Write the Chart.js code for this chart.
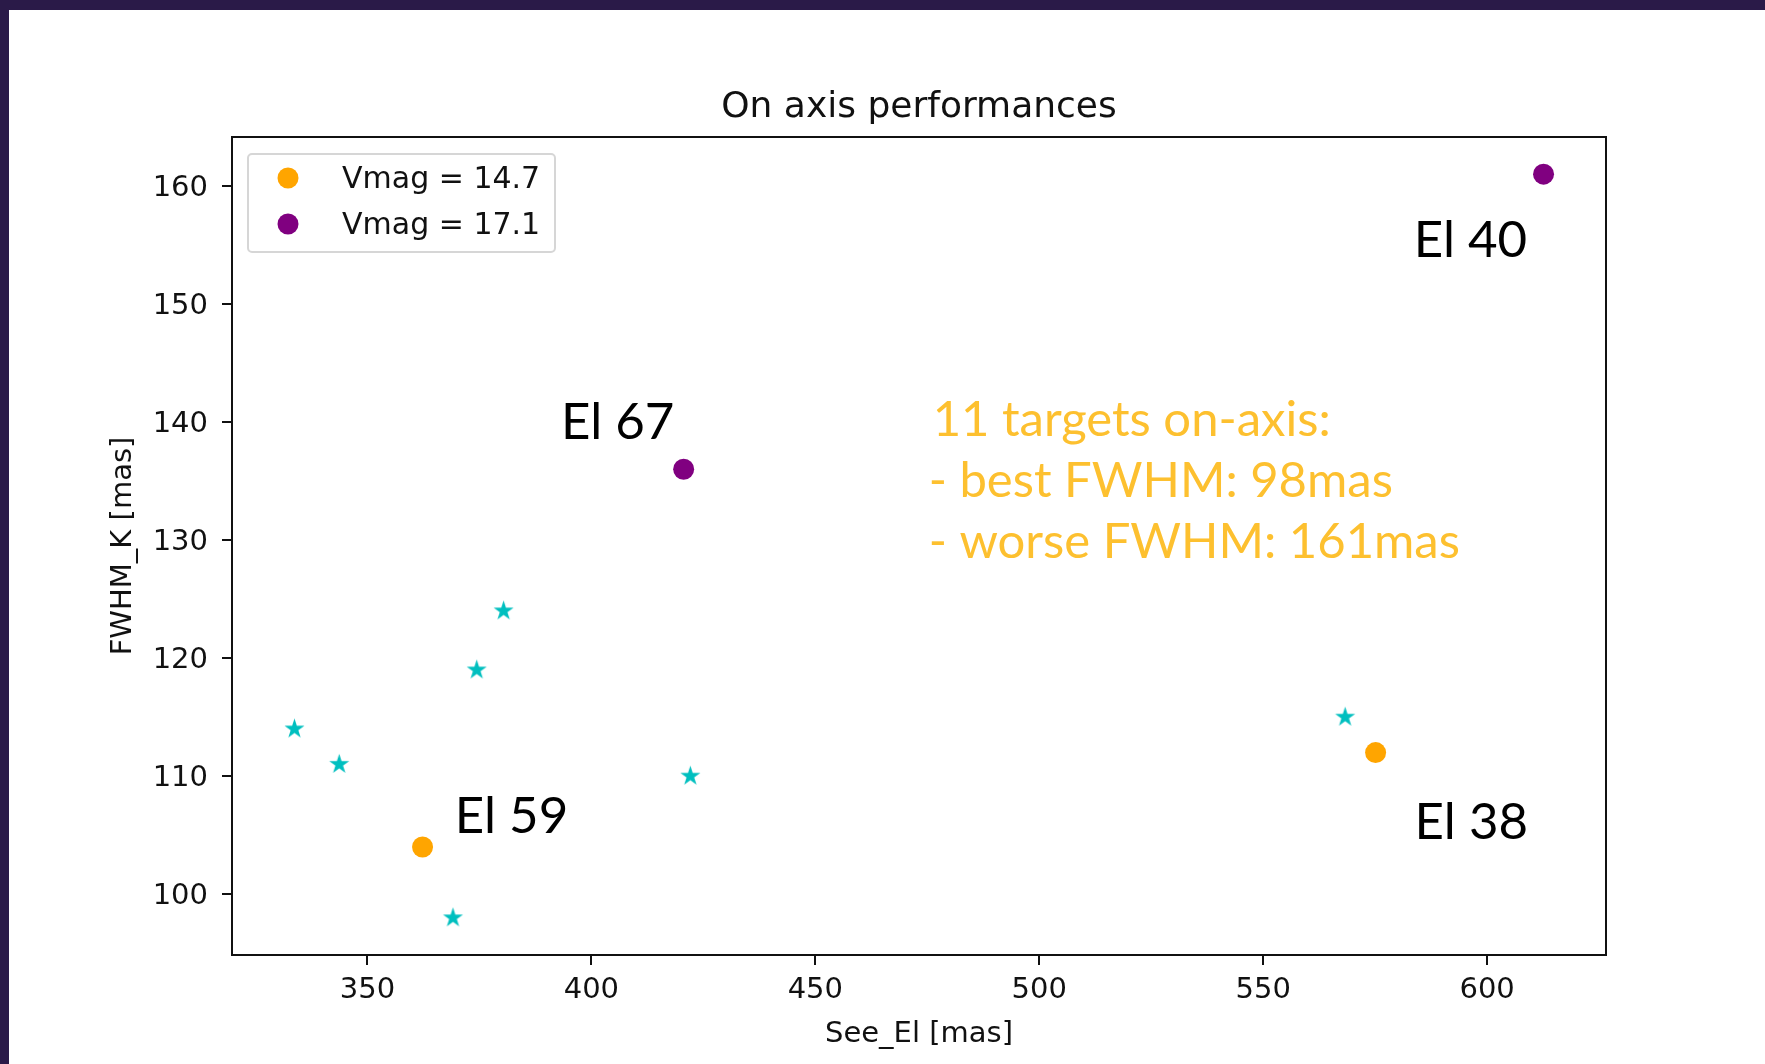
<!DOCTYPE html>
<html>
<head>
<meta charset="utf-8">
<title>On axis performances</title>
<script src="https://cdn.jsdelivr.net/npm/chart.js@4.4.1/dist/chart.umd.min.js"></script>
<style>
    html, body { margin: 0; padding: 0; overflow: hidden; }
    body { width: 1765px; height: 1064px; background: #2a1a48; position: relative; }
    #painel { position: absolute; left: 9px; top: 10px; width: 1756px; height: 1054px; background: #fff; }
    #grafico { display: block; }
</style>
</head>
<body>
<div id="painel">
    <canvas id="grafico" width="1756" height="1054"></canvas>
</div>
<script>
// Dados: seeing (See_El) x FWHM na banda K, em mas
const seeingOutros = [333.7, 343.7, 374.4, 380.4, 422.1, 369.1, 568.3];
const fwhmOutros = [114, 111, 119, 124, 110, 98, 115];
const seeingVmag147 = [362.3, 575.1];
const fwhmVmag147 = [104, 112];
const seeingVmag171 = [420.6, 612.6];
const fwhmVmag171 = [136, 161];

const ticksX = [350, 400, 450, 500, 550, 600];
const ticksY = [100, 110, 120, 130, 140, 150, 160];
const rotulosLegenda = ['Vmag = 14.7', 'Vmag = 17.1'];
const linhasResumo = ['11 targets on-axis:', '- best FWHM: 98mas', '- worse FWHM: 161mas'];

// Rótulos de elevação (ancorados em coordenadas dos dados)
const rotulosElevacao = [
    { texto: 'El 40', x: 583.6, y: 154.0 },
    { texto: 'El 67', x: 393.2, y: 138.6 },
    { texto: 'El 59', x: 369.5, y: 105.2 },
    { texto: 'El 38', x: 583.8, y: 104.7 }
];

const CORES = {
    laranja: '#ffa500',
    roxo: '#800080',
    ciano: '#00bfbf',
    texto: '#111111',
    resumo: '#fdc02f'
};
const FONTE_MPL = '"DejaVu Sans", sans-serif';
const FONTE_SLIDE = 'Futura, "Century Gothic", Lato, sans-serif';

// Margem de 5% nos limites, como o matplotlib faz
function limites(valores) {
    const min = Math.min(...valores);
    const max = Math.max(...valores);
    const m = (max - min) * 0.05;
    return { min: min - m, max: max + m };
}

// Marcador de estrela preenchida (o 'star' do Chart.js é só traço)
function criarEstrela(cor, raio) {
    const c = document.createElement('canvas');
    const tam = Math.ceil(raio * 2) + 2;
    c.width = c.height = tam;
    const ctx = c.getContext('2d');
    ctx.fillStyle = cor;
    ctx.beginPath();
    for (let i = 0; i < 10; i++) {
        const r = i % 2 === 0 ? raio : raio * 0.382;
        const a = -Math.PI / 2 + i * Math.PI / 5;
        ctx.lineTo(tam / 2 + r * Math.cos(a), tam / 2 + r * Math.sin(a));
    }
    ctx.closePath();
    ctx.fill();
    return c;
}

function pontos(xs, ys) {
    return xs.map((x, i) => ({ x, y: ys[i] }));
}

const limX = limites([...seeingOutros, ...seeingVmag147, ...seeingVmag171]);
const limY = limites([...fwhmOutros, ...fwhmVmag147, ...fwhmVmag171]);

// Moldura, título, legenda e textos por cima do gráfico
const pluginSobreposicao = {
    id: 'sobreposicao',
    afterDraw(chart) {
        const { ctx, chartArea: a, scales: { x, y } } = chart;
        ctx.save();

        ctx.strokeStyle = CORES.texto;
        ctx.lineWidth = 2;
        ctx.strokeRect(a.left, a.top, a.right - a.left, a.bottom - a.top);

        // Título
        ctx.fillStyle = CORES.texto;
        ctx.font = `36px ${FONTE_MPL}`;
        ctx.textAlign = 'center';
        ctx.textBaseline = 'alphabetic';
        ctx.fillText('On axis performances', (a.left + a.right) / 2, a.top - 20);

        // Legenda
        const lx = a.left + 16, ly = a.top + 17, lw = 307, lh = 98;
        ctx.globalAlpha = 0.8;
        ctx.fillStyle = '#fff';
        ctx.strokeStyle = '#cccccc';
        ctx.lineWidth = 2;
        ctx.beginPath();
        ctx.roundRect(lx, ly, lw, lh, 4);
        ctx.fill();
        ctx.stroke();
        ctx.globalAlpha = 1;
        const coresLegenda = [CORES.laranja, CORES.roxo];
        ctx.font = `30px ${FONTE_MPL}`;
        ctx.textAlign = 'left';
        ctx.textBaseline = 'middle';
        rotulosLegenda.forEach((rotulo, i) => {
            const cy = ly + 24 + i * 46;
            ctx.fillStyle = coresLegenda[i];
            ctx.beginPath();
            ctx.arc(lx + 40, cy, 10.5, 0, Math.PI * 2);
            ctx.fill();
            ctx.fillStyle = CORES.texto;
            ctx.fillText(rotulo, lx + 94, cy + 2);
        });

        // Rótulos de elevação
        ctx.fillStyle = '#000';
        ctx.font = `51px ${FONTE_SLIDE}`;
        ctx.textBaseline = 'alphabetic';
        rotulosElevacao.forEach(r => {
            ctx.fillText(r.texto, x.getPixelForValue(r.x), y.getPixelForValue(r.y));
        });

        // Resumo em amarelo
        ctx.fillStyle = CORES.resumo;
        ctx.font = `49px ${FONTE_SLIDE}`;
        const rx = x.getPixelForValue(476.2);
        const ry = y.getPixelForValue(138.8);
        linhasResumo.forEach((linha, i) => {
            ctx.fillText(linha, rx - (i > 0 ? 4 : 0), ry + i * 61);
        });

        ctx.restore();
    }
};

const eixoComum = {
    type: 'linear',
    grid: {
        drawOnChartArea: false,
        drawTicks: true,
        tickLength: 10,
        color: CORES.texto,
        lineWidth: 2
    },
    border: { display: false },
    ticks: {
        color: CORES.texto,
        font: { family: FONTE_MPL, size: 29 }
    }
};

new Chart(document.getElementById('grafico'), {
    type: 'scatter',
    data: {
        datasets: [
            {
                label: 'outros',
                data: pontos(seeingOutros, fwhmOutros),
                pointStyle: criarEstrela(CORES.ciano, 10.5),
                backgroundColor: CORES.ciano,
                borderWidth: 0
            },
            {
                label: rotulosLegenda[0],
                data: pontos(seeingVmag147, fwhmVmag147),
                pointStyle: 'circle',
                pointRadius: 10.5,
                backgroundColor: CORES.laranja,
                borderWidth: 0
            },
            {
                label: rotulosLegenda[1],
                data: pontos(seeingVmag171, fwhmVmag171),
                pointStyle: 'circle',
                pointRadius: 10.5,
                backgroundColor: CORES.roxo,
                borderWidth: 0
            }
        ]
    },
    options: {
        responsive: false,
        animation: false,
        devicePixelRatio: 1,
        layout: { padding: { top: 127, right: 159, bottom: 0, left: 0 } },
        plugins: {
            legend: { display: false },
            title: { display: false },
            tooltip: { enabled: false }
        },
        scales: {
            x: {
                ...eixoComum,
                position: 'bottom',
                min: limX.min,
                max: limX.max,
                ticks: { ...eixoComum.ticks, padding: 8, maxRotation: 0 },
                afterBuildTicks: s => { s.ticks = ticksX.map(v => ({ value: v })); },
                afterFit: s => { s.height = 109; },
                title: {
                    display: true,
                    text: 'See_El [mas]',
                    color: CORES.texto,
                    font: { family: FONTE_MPL, size: 29 },
                    padding: { top: 0, bottom: 12 }
                }
            },
            y: {
                ...eixoComum,
                position: 'left',
                min: limY.min,
                max: limY.max,
                ticks: { ...eixoComum.ticks, padding: 14, labelOffset: 2 },
                afterBuildTicks: s => { s.ticks = ticksY.map(v => ({ value: v })); },
                afterFit: s => { s.width = 223; },
                title: {
                    display: true,
                    text: 'FWHM_K [mas]',
                    color: CORES.texto,
                    font: { family: FONTE_MPL, size: 29 },
                    padding: { top: 97, bottom: 0 }
                }
            }
        }
    },
    plugins: [pluginSobreposicao]
});
</script>
</body>
</html>
